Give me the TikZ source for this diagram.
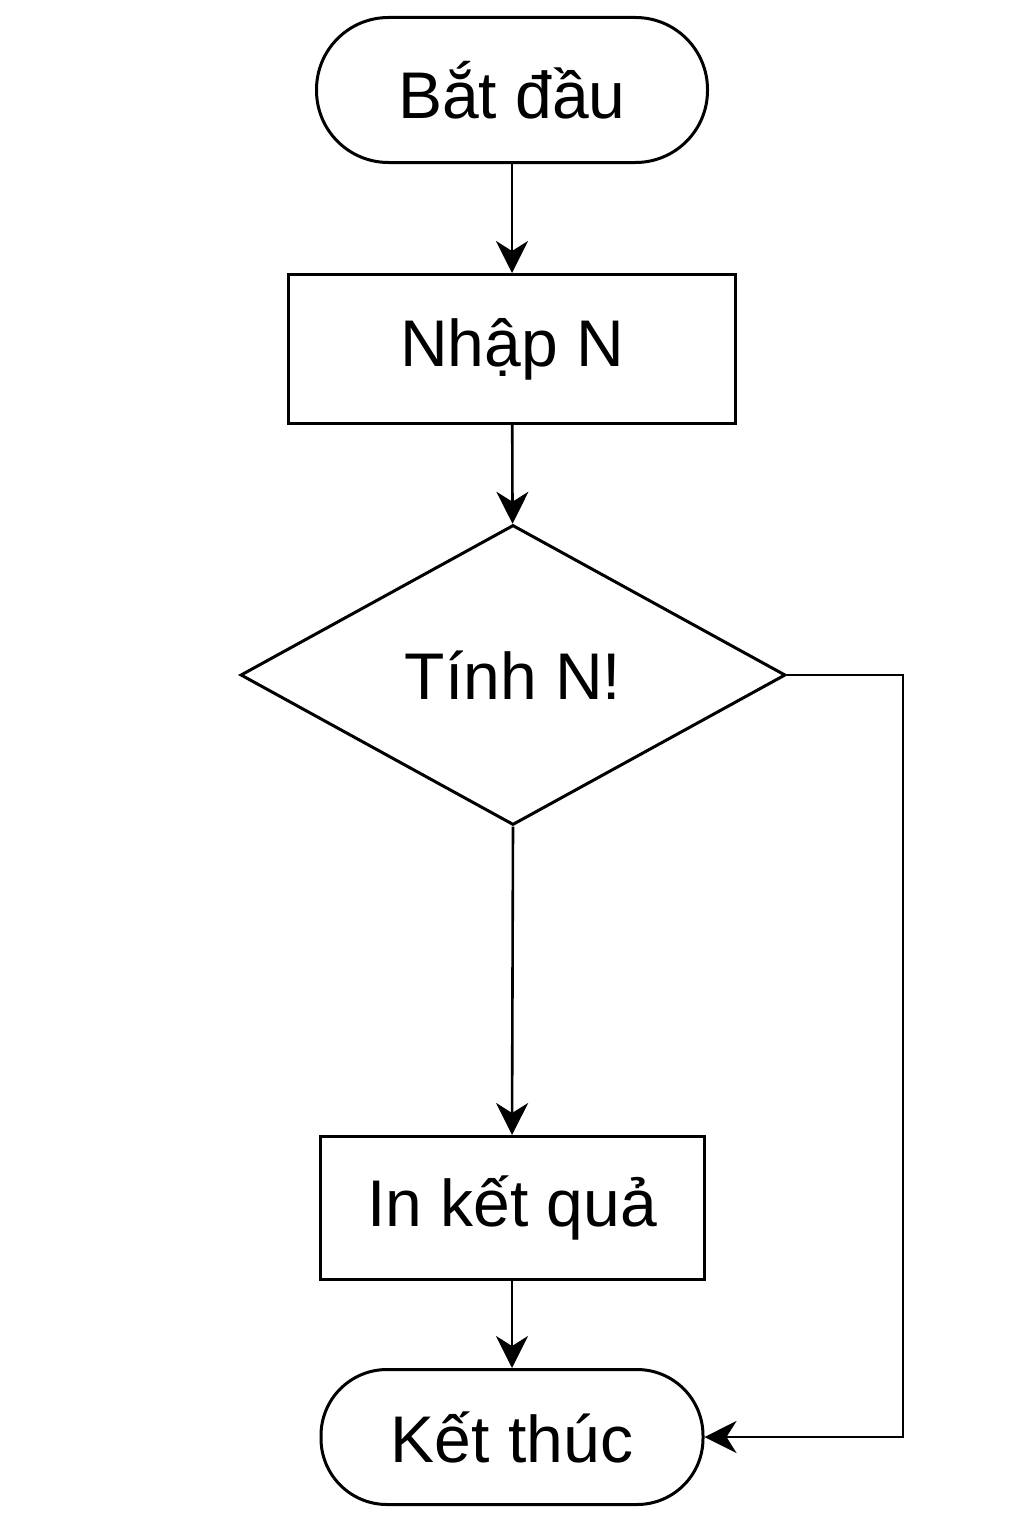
\documentclass[tikz,border=0pt]{standalone}
\usepackage{fontspec}
\setmainfont{Liberation Sans}
\usetikzlibrary{shapes.geometric,arrows.meta}

\tikzset{
  terminal/.style={draw, line width=1.5pt, minimum width=195.5pt, minimum height=72.5pt, rounded corners=36pt, inner sep=0pt},
  process/.style={draw, line width=1.5pt, minimum width=223.5pt, minimum height=74.5pt, inner sep=0pt},
  decision/.style={draw, diamond, line width=1.5pt, minimum width=272.5pt, minimum height=150pt, inner sep=0pt},
  flow/.style={line width=1.3pt, -{Stealth[length=16pt, width=16pt, inset=5pt]}}
}

\begin{document}
\begin{tikzpicture}[x=0.5pt, y=-0.5pt, font=\fontsize{33}{40}\selectfont]

\useasboundingbox (0,0) rectangle (1024,1536);

% Bat dau
\node[terminal] (batdau) at (512,90) {Bắt đầu};

% Nhap N
\node[process] (nhap) at (512,349) {Nhập N};

% Tinh N!
\node[decision] (tinh) at (513,675) {Tính N!};

% In ket qua
\node[process, minimum width=192pt, minimum height=71.5pt] (inkq) at (512,1208) {In kết quả};

% Ket thuc
\node[terminal, minimum width=191pt, minimum height=67.5pt, rounded corners=33pt] (ketthuc) at (512,1437) {Kết thúc};

\coordinate (goc1) at (903,675);
\coordinate (goc2) at (903,1437);

\draw[flow] (batdau) -- (nhap);
\draw[flow] (nhap) -- (tinh);
\draw[flow] (tinh.south) -- (inkq.north);
\draw[flow] (inkq) -- (ketthuc);
\draw[flow] (tinh.east) -- (goc1) -- (goc2) -- (ketthuc.east);

\end{tikzpicture}
\end{document}
